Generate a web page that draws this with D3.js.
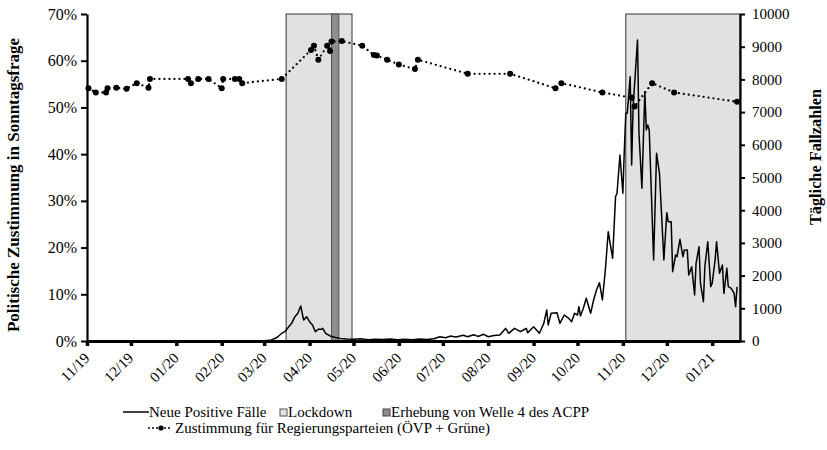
<!DOCTYPE html>
<html>
<head>
<meta charset="utf-8">
<script src="https://cdn.jsdelivr.net/npm/d3@7"></script>
<style>
  html, body { margin: 0; padding: 0; background: #fff; }
  svg { display: block; font-family: "Liberation Serif", "Times New Roman", serif; }
</style>
</head>
<body>
<svg id="chart" width="827" height="450"></svg>
<script>
// Daily new positive cases (Austria)
const caseDates = [
  "2019-11-01","2020-02-29","2020-03-06","2020-03-10","2020-03-13","2020-03-15","2020-03-17","2020-03-20",
  "2020-03-22","2020-03-24","2020-03-26","2020-03-27","2020-03-28","2020-03-30","2020-04-01","2020-04-03",
  "2020-04-05","2020-04-07","2020-04-09","2020-04-10","2020-04-12","2020-04-14","2020-04-15","2020-04-18",
  "2020-04-22","2020-04-26","2020-05-01","2020-05-06","2020-05-11","2020-05-16","2020-05-21","2020-05-26",
  "2020-05-31","2020-06-05","2020-06-10","2020-06-15","2020-06-20","2020-06-25","2020-06-29","2020-07-03",
  "2020-07-06","2020-07-10","2020-07-15","2020-07-18","2020-07-22","2020-07-25","2020-07-29","2020-08-01",
  "2020-08-05","2020-08-09","2020-08-13","2020-08-15","2020-08-19","2020-08-23","2020-08-25","2020-08-27",
  "2020-08-28","2020-09-01","2020-09-03","2020-09-05","2020-09-08","2020-09-10","2020-09-11","2020-09-13",
  "2020-09-17","2020-09-19","2020-09-22","2020-09-25","2020-09-27","2020-09-29","2020-10-01","2020-10-02",
  "2020-10-03","2020-10-05","2020-10-07","2020-10-08","2020-10-10","2020-10-12","2020-10-14","2020-10-16",
  "2020-10-18","2020-10-20","2020-10-22","2020-10-25","2020-10-27","2020-10-28","2020-10-30","2020-11-01",
  "2020-11-02","2020-11-03","2020-11-04","2020-11-06","2020-11-07","2020-11-08","2020-11-11","2020-11-12",
  "2020-11-14","2020-11-16","2020-11-17","2020-11-18","2020-11-19","2020-11-22","2020-11-24","2020-11-26",
  "2020-11-29","2020-12-01","2020-12-02","2020-12-04","2020-12-05","2020-12-07","2020-12-08","2020-12-10",
  "2020-12-12","2020-12-13","2020-12-15","2020-12-16","2020-12-18","2020-12-20","2020-12-21","2020-12-23",
  "2020-12-24","2020-12-26","2020-12-27","2020-12-29","2020-12-31","2021-01-01","2021-01-03","2021-01-04",
  "2021-01-06","2021-01-08","2021-01-09","2021-01-11","2021-01-12","2021-01-14","2021-01-16","2021-01-17",
  "2021-01-18"
];
const caseCounts = [
  0,0,30,113,235,285,388,560,
  743,847,1070,847,642,743,590,489,
  285,358,358,388,235,183,153,113,
  80,60,50,70,40,55,45,60,
  35,50,40,60,45,70,131,100,
  150,120,174,130,193,140,204,130,
  170,183,388,235,388,285,336,388,
  254,438,336,235,541,948,489,847,
  866,541,795,694,590,847,795,1050,
  765,1000,1305,1152,847,1254,1560,1783,
  1254,2150,3343,2529,4413,4517,5688,4517,
  5841,6963,6963,8083,5382,7165,9205,6352,
  4670,7624,6453,6606,6453,2477,5740,5128,
  2477,3925,3648,3648,2120,2630,2579,3110,
  2579,2783,2783,2018,2273,1407,2376,2884,
  1765,1203,2273,3037,1661,1765,2477,3037,
  2070,2324,1457,2222,1661,1610,1457,1050,
  1661
];

// Poll share of the governing parties (ÖVP + Grüne)
const pollDates = [
  "2019-11-02","2019-11-07","2019-11-14","2019-11-15","2019-11-21","2019-11-28","2019-12-05","2019-12-13",
  "2019-12-14","2020-01-09","2020-01-11","2020-01-16","2020-01-23","2020-02-01","2020-02-02","2020-02-10",
  "2020-02-13","2020-02-15","2020-03-13","2020-04-02","2020-04-04","2020-04-07","2020-04-13","2020-04-15",
  "2020-04-16","2020-04-23","2020-05-07","2020-05-15","2020-05-17","2020-05-24","2020-06-01","2020-06-12",
  "2020-06-14","2020-07-18","2020-08-16","2020-09-16","2020-09-20","2020-10-18","2020-11-07","2020-11-09",
  "2020-11-21","2020-12-06","2021-01-18"
];
const pollShares = [
  54.1,53.2,53.2,54.1,54.2,54.0,55.2,54.2,
  56.1,56.1,55.2,56.1,56.1,54.1,56.1,56.1,
  56.1,55.2,56.1,62.3,63.2,60.2,63.2,62.1,
  64.1,64.2,63.2,61.2,61.1,60.2,59.2,58.2,
  60.2,57.2,57.2,54.1,55.2,53.2,52.1,50.2,
  55.2,53.2,51.2
];

// Shaded periods
const lockdownStarts = ["2020-03-16","2020-11-03"];
const lockdownEnds   = ["2020-04-30","2021-01-20"];
const surveyStart = "2020-04-16";
const surveyEnd   = "2020-04-21";

// Axis ticks and labels
const pctTicks = [0,10,20,30,40,50,60,70];
const caseTicks = [0,1000,2000,3000,4000,5000,6000,7000,8000,9000,10000];
const domainStart = "2019-11-01";
const domainEnd = "2021-01-20";
const leftTitle = "Politische Zustimmung in Sonntagsfrage";
const rightTitle = "Tägliche Fallzahlen";
const legendLabels = ["Neue Positive Fälle","Lockdown","Erhebung von Welle 4 des ACPP",
                      "Zustimmung für Regierungsparteien (ÖVP + Grüne)"];

const parse = d3.utcParse("%Y-%m-%d");
const svg = d3.select("#chart");
const L = 87, R = 740, T = 14, B = 341;

const x = d3.scaleUtc().domain([parse(domainStart), parse(domainEnd)]).range([L, R]);
const yL = d3.scaleLinear().domain([0, 70]).range([B, T]);
const yR = d3.scaleLinear().domain([0, 10000]).range([B, T]);

// Lockdown rectangles
const lockdowns = lockdownStarts.map((s, i) => ({ s: parse(s), e: parse(lockdownEnds[i]) }));
svg.append("g").selectAll("rect").data(lockdowns).join("rect")
  .attr("x", d => x(d.s)).attr("y", yL(70))
  .attr("width", d => x(d.e) - x(d.s)).attr("height", yL(0) - yL(70))
  .attr("fill", "#e1e1e1").attr("stroke", "#333").attr("stroke-width", 1);

// Survey period bar
svg.append("rect")
  .attr("x", x(parse(surveyStart))).attr("y", yL(70))
  .attr("width", x(parse(surveyEnd)) - x(parse(surveyStart))).attr("height", yL(0) - yL(70))
  .attr("fill", "#8e8e8e").attr("stroke", "#555").attr("stroke-width", 1);

// Daily cases line
const cases = caseDates.map((d, i) => ({ d: parse(d), v: caseCounts[i] }));
svg.append("path").datum(cases)
  .attr("fill", "none").attr("stroke", "#000").attr("stroke-width", 1.5)
  .attr("stroke-linejoin", "round")
  .attr("d", d3.line().x(d => x(d.d)).y(d => yR(d.v)));

// Poll line (dotted) with markers
const polls = pollDates.map((d, i) => ({ d: parse(d), v: pollShares[i] }));
svg.append("path").datum(polls)
  .attr("fill", "none").attr("stroke", "#000").attr("stroke-width", 2.3)
  .attr("stroke-linecap", "round").attr("stroke-dasharray", "0,5")
  .attr("d", d3.line().x(d => x(d.d)).y(d => yL(d.v)));
svg.append("g").selectAll("circle").data(polls).join("circle")
  .attr("cx", d => x(d.d)).attr("cy", d => yL(d.v)).attr("r", 3).attr("fill", "#000");

// Left axis
const axL = svg.append("g").attr("transform", `translate(${L},0)`)
  .call(d3.axisLeft(yL).tickValues(pctTicks).tickSize(6).tickSizeOuter(0).tickFormat(d => d + "%"));
axL.select(".domain").attr("stroke-width", 2.2);
axL.selectAll(".tick line").attr("stroke-width", 2);
axL.selectAll("text").attr("font-size", 16).attr("font-family", "Liberation Serif").attr("fill", "#000").attr("x", -10);

// Right axis
const axR = svg.append("g").attr("transform", `translate(${R},0)`)
  .call(d3.axisRight(yR).tickValues(caseTicks).tickSize(5).tickSizeOuter(0).tickFormat(d3.format("d")));
axR.select(".domain").attr("stroke-width", 2.2);
axR.selectAll(".tick line").attr("stroke-width", 2);
axR.selectAll("text").attr("font-size", 15).attr("font-family", "Liberation Serif").attr("fill", "#000").attr("x", 12);

// Bottom axis
const axB = svg.append("g").attr("transform", `translate(0,${B})`)
  .call(d3.axisBottom(x).ticks(d3.utcMonth.every(1)).tickSize(5).tickSizeOuter(0).tickFormat(d3.utcFormat("%m/%y")));
axB.select(".domain").attr("stroke-width", 3.2);
axB.selectAll(".tick line").attr("stroke-width", 3.5);
axB.selectAll("text")
  .attr("font-size", 15).attr("font-family", "Liberation Serif").attr("fill", "#000")
  .attr("text-anchor", "end").attr("dy", 0).attr("y", 0)
  .attr("transform", "translate(3,18) rotate(-45)");

// Axis titles
svg.append("text").attr("transform", `translate(19,185) rotate(-90)`)
  .attr("text-anchor", "middle").attr("font-size", 17).attr("font-weight", "bold").text(leftTitle);
svg.append("text").attr("transform", `translate(821,157) rotate(-90)`)
  .attr("text-anchor", "middle").attr("font-size", 16.3).attr("font-weight", "bold").text(rightTitle);

// Legend
const lg = svg.append("g").attr("font-size", 15);
lg.append("line").attr("x1", 123).attr("x2", 149).attr("y1", 412).attr("y2", 412)
  .attr("stroke", "#000").attr("stroke-width", 1.5);
lg.append("text").attr("x", 149).attr("y", 417).text(legendLabels[0]);
lg.append("rect").attr("x", 280).attr("y", 409).attr("width", 7).attr("height", 7)
  .attr("fill", "#e1e1e1").attr("stroke", "#555");
lg.append("text").attr("x", 288).attr("y", 417).text(legendLabels[1]);
lg.append("rect").attr("x", 383).attr("y", 409).attr("width", 7).attr("height", 7)
  .attr("fill", "#8e8e8e").attr("stroke", "#444");
lg.append("text").attr("x", 391).attr("y", 417).text(legendLabels[2]);
lg.append("line").attr("x1", 149).attr("x2", 173).attr("y1", 428).attr("y2", 428)
  .attr("stroke", "#000").attr("stroke-width", 2).attr("stroke-linecap", "round").attr("stroke-dasharray", "0,4");
lg.append("circle").attr("cx", 161).attr("cy", 428).attr("r", 2.6).attr("fill", "#000");
lg.append("text").attr("x", 175).attr("y", 433).text(legendLabels[3]);
</script>
</body>
</html>
